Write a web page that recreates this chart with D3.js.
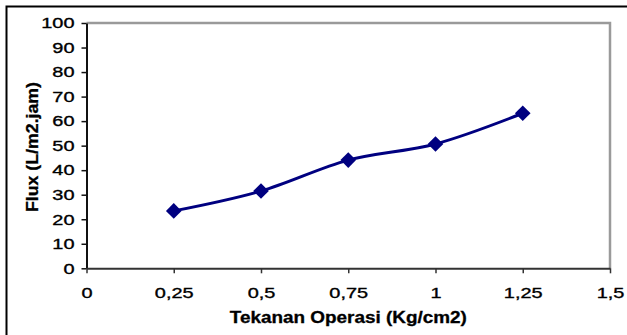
<!DOCTYPE html>
<html>
<head>
<meta charset="utf-8">
<script src="https://cdn.jsdelivr.net/npm/d3@7"></script>
<style>
  html, body { margin: 0; padding: 0; background: #fff; }
  svg { display: block; }
</style>
</head>
<body>
<svg id="chart" width="627" height="335"></svg>
<script>
// Operating pressure (Kg/cm2) and measured flux (L/m2.jam)
const pressure = [0.25, 0.5, 0.75, 1, 1.25];
const flux = [23.4, 31.5, 44.1, 50.7, 63.2];
const xTicks = [0, 0.25, 0.5, 0.75, 1, 1.25, 1.5];
const xTickLabels = ["0", "0,25", "0,5", "0,75", "1", "1,25", "1,5"];
const yTicks = [0, 10, 20, 30, 40, 50, 60, 70, 80, 90, 100];

const svg = d3.select("#chart");
const font = "'Liberation Sans', Arial, sans-serif";
const stretch = 1.33; // tick labels are drawn horizontally widened

const plot = { left: 86.5, top: 23, right: 610, bottom: 268.3 };

const x = d3.scaleLinear().domain([0, 1.5]).range([plot.left, plot.right]);
const y = d3.scaleLinear().domain([0, 100]).range([plot.bottom, plot.top]);

// outer chart frame (top and left edges)
svg.append("path")
  .attr("d", `M6.5,${335} V6.5 H${627}`)
  .attr("fill", "none")
  .attr("stroke", "#000")
  .attr("stroke-width", 2);

// plot area frame: grey top and right edges
svg.append("path")
  .attr("d", `M${plot.left},${plot.top} H${plot.right} V${plot.bottom}`)
  .attr("fill", "none")
  .attr("stroke", "#9a9a9a")
  .attr("stroke-width", 2.5);

// y axis
const yAxis = svg.append("g")
  .attr("transform", `translate(${plot.left},0)`)
  .call(d3.axisLeft(y).tickValues(yTicks).tickSize(5).tickSizeOuter(0).tickFormat(d3.format("d")));
yAxis.select(".domain").attr("stroke", "#111").attr("stroke-width", 2);
yAxis.selectAll(".tick line").attr("stroke", "#111").attr("stroke-width", 1.5);
yAxis.selectAll(".tick text")
  .attr("x", -12 / stretch)
  .attr("transform", `scale(${stretch},1)`)
  .attr("fill", "#000")
  .attr("stroke", "#000")
  .attr("stroke-width", 0.35)
  .style("font-family", font)
  .style("font-size", "15px");

// x axis
const xAxis = svg.append("g")
  .attr("transform", `translate(0,${plot.bottom})`)
  .call(d3.axisBottom(x).tickValues(xTicks).tickSize(5).tickSizeOuter(0)
    .tickFormat((d, i) => xTickLabels[i]));
xAxis.select(".domain").attr("stroke", "#333").attr("stroke-width", 2);
xAxis.selectAll(".tick line").attr("stroke", "#333").attr("stroke-width", 1.5);
xAxis.selectAll(".tick text")
  .attr("y", 30)
  .attr("dy", null)
  .attr("transform", `scale(${stretch},1)`)
  .attr("fill", "#000")
  .attr("stroke", "#000")
  .attr("stroke-width", 0.35)
  .style("font-family", font)
  .style("font-size", "15px");

// smoothed data line
const pts = pressure.map((p, i) => [p, flux[i]]);
svg.append("path")
  .datum(pts)
  .attr("d", d3.line().x(d => x(d[0])).y(d => y(d[1])).curve(d3.curveCatmullRom.alpha(0)))
  .attr("fill", "none")
  .attr("stroke", "#000080")
  .attr("stroke-width", 3);

// diamond markers
const r = 7.8;
svg.append("g").selectAll("path")
  .data(pts)
  .join("path")
  .attr("d", d => {
    const cx = x(d[0]), cy = y(d[1]);
    return `M${cx},${cy - r} L${cx + r},${cy} L${cx},${cy + r} L${cx - r},${cy} Z`;
  })
  .attr("fill", "#000080");

// axis titles
svg.append("text")
  .attr("x", 348.3)
  .attr("y", 323.3)
  .attr("text-anchor", "middle")
  .attr("textLength", 237)
  .attr("lengthAdjust", "spacingAndGlyphs")
  .attr("stroke", "#000")
  .attr("stroke-width", 0.3)
  .style("font-family", font)
  .style("font-size", "16px")
  .style("font-weight", "bold")
  .text("Tekanan Operasi (Kg/cm2)");

svg.append("text")
  .attr("transform", "translate(38,147) rotate(-90)")
  .attr("text-anchor", "middle")
  .attr("textLength", 130)
  .attr("lengthAdjust", "spacingAndGlyphs")
  .attr("stroke", "#000")
  .attr("stroke-width", 0.3)
  .style("font-family", font)
  .style("font-size", "16px")
  .style("font-weight", "bold")
  .text("Flux (L/m2.jam)");
</script>
</body>
</html>
